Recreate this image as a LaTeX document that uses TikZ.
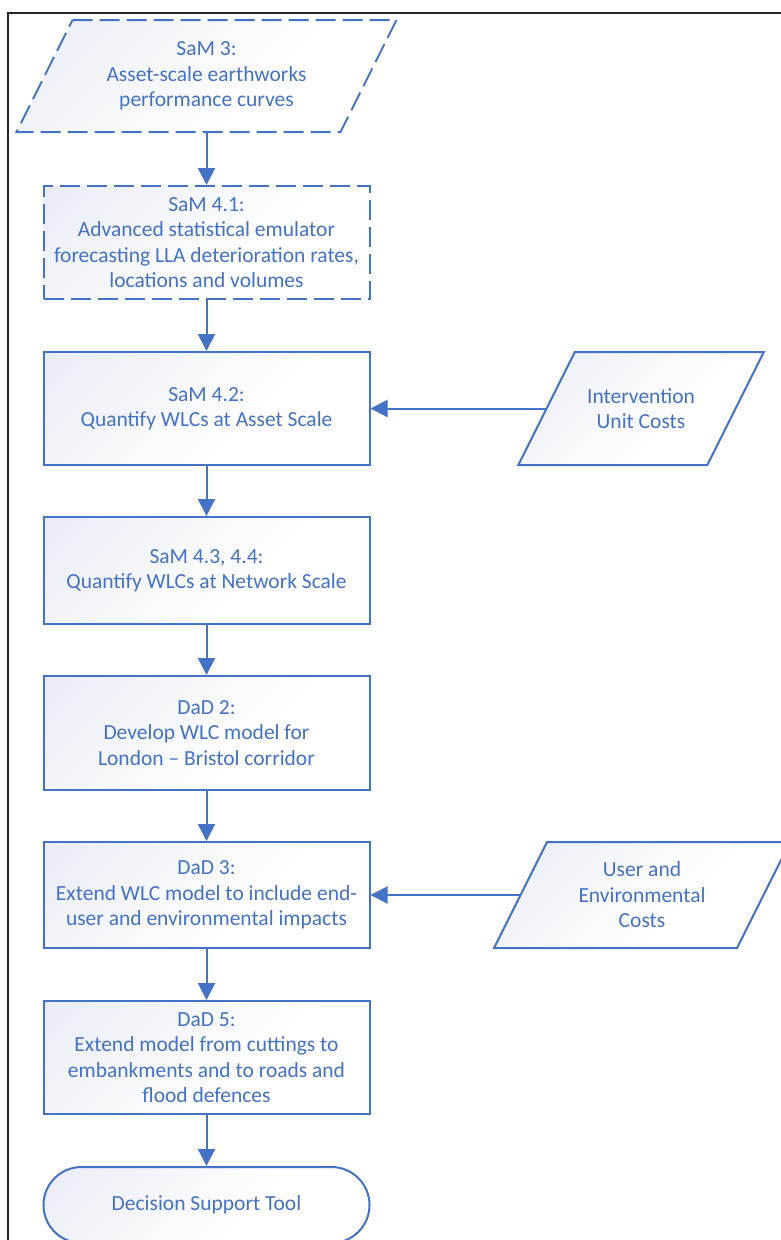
\documentclass[tikz,border=0pt]{standalone}
\usepackage{fontspec}
\setmainfont{Carlito}
\usetikzlibrary{arrows.meta}
\definecolor{ob}{HTML}{4472C4}
\definecolor{ofill}{HTML}{E1E5F3}
\pgfdeclareverticalshading{offshade}{100bp}{color(0bp)=(white); color(40bp)=(white); color(75bp)=(ofill!55!white); color(100bp)=(ofill)}
\begin{document}
\begin{tikzpicture}[x=1pt,y=-1pt,
  look/.style={draw=ob, line width=2pt, shading=offshade, shading angle=45},
  txt/.style={align=center, text=ob, font=\fontsize{21.5}{25.5}\selectfont, inner sep=0pt},
  base/.style={look, txt},
  proc/.style={base, rectangle, minimum width=326pt},
  paratext/.style={txt, rectangle, draw=none},
  dashbox/.style={dash pattern=on 20pt off 7pt},
  term/.style={base, rectangle, rounded corners=38pt, minimum width=326pt, minimum height=76pt},
  flow/.style={draw=ob, line width=2pt, -{Triangle[length=17pt,width=17pt]}},
  frame/.style={draw=black!85, line width=2pt}
]
\useasboundingbox (0,0) rectangle (781,1240);
\draw[frame] (8,1250) -- (8,13) -- (795,13);

% SaM 3 (parallelogram, dashed)
\path[look, dashbox] (72.5,20) -- (396.5,20) -- (340.5,132) -- (16.5,132) -- cycle;
\node[paratext, minimum width=324pt, minimum height=112pt] (s3) at (206.5,76)
  {SaM 3:\\Asset-scale earthworks\\performance curves};

\node[proc, dashbox, minimum height=113pt] (b41) at (206.5,242.5)
  {SaM 4.1:\\Advanced statistical emulator\\forecasting LLA deterioration rates,\\locations and volumes};
\node[proc, minimum height=113pt] (b42) at (206.5,408.5)
  {SaM 4.2:\\Quantify WLCs at Asset Scale};

% Intervention Unit Costs (parallelogram)
\path[look] (574.75,352) -- (763.75,352) -- (707.25,465) -- (518.25,465) -- cycle;
\node[paratext, minimum width=189pt, minimum height=113pt] (iu) at (641,408.5)
  {Intervention\\Unit Costs};

\node[proc, minimum height=107pt] (b43) at (206.5,570.5)
  {SaM 4.3, 4.4:\\Quantify WLCs at Network Scale};
\node[proc, minimum height=114pt] (d2) at (206.5,733)
  {DaD 2:\\Develop WLC model for\\London -- Bristol corridor};
\node[proc, minimum height=106pt] (d3) at (206.5,895)
  {DaD 3:\\Extend WLC model to include end-\\user and environmental impacts};

% User and Environmental Costs (parallelogram)
\path[look] (547,842) -- (790,842) -- (737,948) -- (494,948) -- cycle;
\node[paratext, minimum width=243pt, minimum height=106pt] (uec) at (642,895)
  {User and\\Environmental\\Costs};

\node[proc, minimum height=113pt] (d5) at (206.5,1057.5)
  {DaD 5:\\Extend model from cuttings to\\embankments and to roads and\\flood defences};
\node[term] (dst) at (206.5,1205) {Decision Support Tool};

\draw[flow] (s3) -- (b41);
\draw[flow] (b41) -- (b42);
\draw[flow] (b42) -- (b43);
\draw[flow] (b43) -- (d2);
\draw[flow] (d2) -- (d3);
\draw[flow] (d3) -- (d5);
\draw[flow] (d5) -- (dst);
\draw[flow] (iu) -- (b42);
\draw[flow] (uec) -- (d3);
\end{tikzpicture}
\end{document}
